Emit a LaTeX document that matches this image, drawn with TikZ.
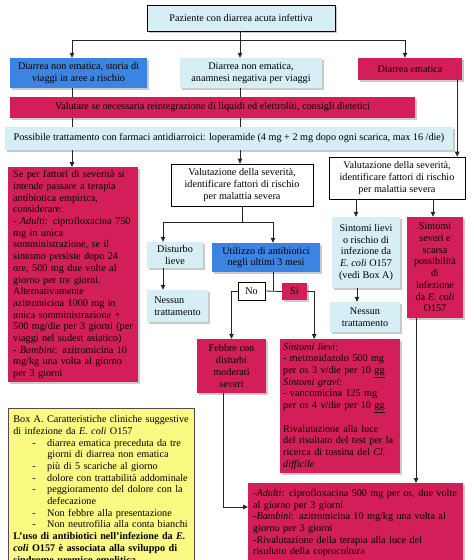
\documentclass[tikz,border=0pt]{standalone}
\usepackage{fontspec}
\setmainfont{Liberation Serif}
\usetikzlibrary{positioning, arrows.meta, shadows}

\definecolor{cyanfill}{HTML}{D6EEF5}
\definecolor{bluefill}{HTML}{3C84E4}
\definecolor{redfill}{HTML}{D41E5A}
\definecolor{yellowfill}{HTML}{FAFA82}

\begin{document}
\begin{tikzpicture}[x=1pt, y=-1pt,
    every node/.style={font=\fontsize{10.2}{11.7}\selectfont, inner sep=2pt, text=black},
    shade box/.style={drop shadow={shadow xshift=2pt, shadow yshift=-2pt, fill=black!35, opacity=0.6}},
    cyanbox/.style={rectangle, fill=cyanfill, shade box},
    bluebox/.style={rectangle, fill=bluefill, shade box},
    redbox/.style={rectangle, fill=redfill, shade box},
    whitebox/.style={rectangle, fill=white, draw=black, line width=0.7pt},
    leftbox/.style={anchor=north west, align=left, inner xsep=5pt},
    conn/.style={line width=0.8pt, draw=black!85},
    arr/.style={conn, -{Triangle[length=5pt, width=4.5pt]}}]
\useasboundingbox (0,0) rectangle (474,560);
\clip (0,0) rectangle (474,560);

% first levels
\node[whitebox, fill=cyanfill, shade box, minimum width=188, minimum height=26] (top) at (241,18) {Paziente con diarrea acuta infettiva};
\node[bluebox, minimum width=137, minimum height=30, align=center] (blue1) at (78.5,73) {Diarrea non ematica, storia di\\ viaggi in aree a rischio};
\node[cyanbox, minimum width=142, minimum height=30, align=center] (cyan1) at (251,73) {Diarrea non ematica,\\ anamnesi negativa per viaggi};
\node[redbox, minimum width=104, minimum height=22] (ematica) at (410,69) {Diarrea ematica};
\node[redbox, minimum width=405, minimum height=21] (valut) at (212.5,107.5) {Valutare se necessaria reintegrazione di liquidi ed elettroliti, consigli dietetici};
\node[cyanbox, minimum width=448, minimum height=23] (poss) at (229,138.5) {Possibile trattamento con farmaci antidiarroici: loperamide (4 mg + 2 mg dopo ogni scarica, max 16 /die)};

\coordinate (hlL) at (72,40);
\coordinate (hlM) at (240,40);
\coordinate (hlR) at (405,40);

% left column
\node[redbox, leftbox, text width=120, minimum height=215] (empir) at (8,167) {Se per fattori di severità si\\ intende passare a terapia\\ antibiotica empirica,\\ considerare:\\ - \textit{Adulti}: ciprofloxacina 750\\ mg in unica\\ somministrazione, se il\\ sintomo persiste dopo 24\\ ore, 500 mg due volte al\\ giorno per tre giorni.\\ Alternativamente\\ azitromicina 1000 mg in\\ unica somministrazione +\\ 500 mg/die per 3 giorni (per\\ viaggi nel sudest asiatico)\\ - \textit{Bambini}: azitromicina 10\\ mg/kg una volta al giorno\\ per 3 giorni};

% middle column
\node[whitebox, minimum width=142, minimum height=42, align=center] (valM) at (242,185) {Valutazione della severità,\\ identificare fattori di rischio\\ per malattia severa};
\node[cyanbox, minimum width=56, minimum height=26, align=center] (dist) at (175,255) {Disturbo\\ lieve};
\node[bluebox, minimum width=108, minimum height=29, align=center] (util) at (266,257.5) {Utilizzo di antibiotici\\ negli ultimi 3 mesi};
\node[cyanbox, minimum width=61, minimum height=32, align=left] (nessL) at (177.5,306) {Nessun\\ trattamento};
\node[whitebox, minimum width=27, minimum height=18] (no) at (251.5,291) {No};
\node[redbox, minimum width=25, minimum height=17] (si) at (294.5,291.5) {Si};
\node[redbox, minimum width=69, minimum height=54, align=center] (febbre) at (231.5,366) {Febbre con\\ disturbi\\ moderati\\ severi};
\node[redbox, leftbox, inner xsep=3pt, text width=114, minimum height=134] (cldiff) at (280,339) {\textit{Sintomi lievi}:\\ - metronidazolo 500 mg\\ per os 3 v/die per 10 \underline{gg}\\ \textit{Sintomi gravi}:\\ - vancomicina 125 mg\\ per os 4 v/die per 10 \underline{gg}\\[11.7pt] Rivalutazione alla luce\\ del risultato del test per la\\ ricerca di tossina del \textit{Cl.}\\ \textit{difficile}};

% right column
\node[whitebox, minimum width=136, minimum height=42, align=center] (valR) at (397,178) {Valutazione della severità,\\ identificare fattori di rischio\\ per malattia severa};
\node[cyanbox, minimum width=68, minimum height=71, align=center] (slievi) at (366,252.5) {Sintomi lievi\\ o rischio di\\ infezione da\\ \textit{E. coli} O157\\ (vedi Box A)};
\node[redbox, minimum width=56, minimum height=101, align=center] (ssev) at (435,267.5) {Sintomi\\ severi e\\ scarsa\\ possibilità\\ di\\ infezione\\ da \textit{E. coli}\\ O157};
\node[cyanbox, minimum width=70, minimum height=30, align=center] (nessR) at (365,317) {Nessun\\ trattamento};
\node[redbox, leftbox, text width=205, minimum height=80] (terapia) at (248,483) {-\textit{Adulti}: ciprofloxacina 500 mg per os, due volte\\ al giorno per 3 giorni\\ -\textit{Bambini}: azitromicina 10 mg/kg una volta al\\ giorno per 3 giorni\\ -Rivalutazione della terapia alla luce del\\ risultato della coprocoltura};

% box A
\node[leftbox, fill=yellowfill, draw=black!70, line width=0.7pt, text width=176, minimum height=162, inner ysep=4pt] (boxA) at (8,408) {Box A. Caratteristiche cliniche suggestive\\ di infezione da \textit{E. coli} O157\\
\hspace*{19pt}-\hspace{11.5pt}diarrea ematica preceduta da tre\\ \hspace*{34pt}giorni di diarrea non ematica\\
\hspace*{19pt}-\hspace{11.5pt}più di 5 scariche al giorno\\
\hspace*{19pt}-\hspace{11.5pt}dolore con trattabilità addominale\\
\hspace*{19pt}-\hspace{11.5pt}peggioramento del dolore con la\\ \hspace*{34pt}defecazione\\
\hspace*{19pt}-\hspace{11.5pt}Non febbre alla presentazione\\
\hspace*{19pt}-\hspace{11.5pt}Non neutrofilia alla conta bianchi\\
\textbf{L’uso di antibiotici nell’infezione da \textit{E.}}\\ \textbf{\textit{coli} O157 è associata alla sviluppo di}\\ \textbf{sindrome uremico-emolitica}};

% connectors
\draw[arr] (hlM |- top.south) -- (hlM |- cyan1.north);
\draw[conn] (hlL) -- (hlR);
\draw[arr] (hlL) -- (hlL |- blue1.north);
\draw[arr] (hlR) -- (hlR |- ematica.north);
\draw[conn] (hlL |- blue1.south) -- (hlL |- valut.north);
\draw[conn] (hlM |- cyan1.south) -- (hlM |- valut.north);
\draw[conn] (hlL |- valut.south) -- (hlL |- poss.north);
\draw[conn] (hlM |- valut.south) -- (hlM |- poss.north);
\draw[arr] (hlL |- poss.south) -- (hlL |- empir.north);
\draw[arr] (hlM |- poss.south) -- (hlM |- valM.north);
\draw[arr] ([xshift=-5pt]ematica.south east) -- ([xshift=-5pt]ematica.south east |- valR.north);

\draw[conn] (valM.south) -- ++(0,16) coordinate (jM);
\draw[arr] (jM) -| ([xshift=-12pt]dist.north);
\draw[arr] (jM) -| ([xshift=7pt]util.north);
\draw[arr] ([xshift=-12pt]dist.south) -- ([xshift=-12pt]dist.south |- nessL.north);
\draw[conn] ([xshift=7pt]util.south) -- ([xshift=7pt]util.south |- no.east);
\draw[conn] (no.east) -- (si.west);
\draw[arr] (no.west) -| (febbre.north);
\draw[arr] (si.east) -| ([xshift=-26pt]cldiff.north);
\draw[arr] ([xshift=-8.5pt]febbre.south) |- ([yshift=-24pt]terapia.north west);

\draw[arr] ([xshift=-41pt]valR.south) -- ([xshift=-41pt]valR.south |- slievi.north);
\draw[arr] ([xshift=36pt]valR.south) -- ([xshift=36pt]valR.south |- ssev.north);
\draw[arr] ([xshift=-9pt]slievi.south) -- ([xshift=-9pt]slievi.south |- nessR.north);
\draw[arr] ([xshift=-19pt]ssev.south) -- ([xshift=-19pt]ssev.south |- terapia.north);
\end{tikzpicture}
\end{document}
